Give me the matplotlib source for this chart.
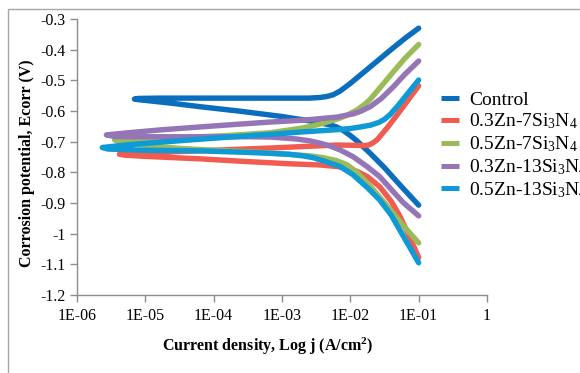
import numpy as np
import matplotlib
matplotlib.use('Agg')
import matplotlib.pyplot as plt
from matplotlib.patches import Rectangle
from matplotlib.ticker import FixedLocator, FixedFormatter, NullLocator

plt.rcParams['font.family'] = 'Liberation Serif'
plt.rcParams['mathtext.fontset'] = 'custom'
plt.rcParams['mathtext.rm'] = 'Liberation Serif'
plt.rcParams['mathtext.bf'] = 'Liberation Serif:bold'
plt.rcParams['mathtext.default'] = 'regular'

# ---------------------------------------------------------
#  Tafel curves: log10 j (A/cm2) and potential E (V)
#  each path = anodic branch (right -> tip) + cathodic branch (tip -> right)
# ---------------------------------------------------------

labels = ['Control', '0.3Zn-7Si$_3$N$_4$', '0.5Zn-7Si$_3$N$_4$',
          '0.3Zn-13Si$_3$N$_4$', '0.5Zn-13Si$_3$N$_4$']
colors = ['#0A6EBE', '#F15B50', '#9BBB59', '#9575B5', '#0E9AD6']

control_logj = [-1.0, -1.2, -1.4, -1.6, -1.8, -2.0, -2.15, -2.25, -2.35, -2.45, -2.6, -3.0, -4.0, -4.8, -5.1, -5.16,
                -5.1, -4.6, -4.2, -3.6, -3.0, -2.6, -2.3, -2.2, -2.1, -2.0, -1.9, -1.7, -1.5, -1.25, -1.0]
control_E = [-0.330, -0.363, -0.399, -0.436, -0.473, -0.510, -0.535, -0.547, -0.553, -0.556, -0.558, -0.558, -0.558, -0.558, -0.559, -0.561,
             -0.563, -0.575, -0.586, -0.601, -0.618, -0.632, -0.645, -0.652, -0.664, -0.680, -0.698, -0.740, -0.785, -0.847, -0.907]

red_logj = [-1.0, -1.15, -1.3, -1.45, -1.6, -1.65, -1.7, -1.75, -1.82, -1.9, -2.2, -2.7, -3.2, -4.0, -4.7, -5.2, -5.38,
            -5.3, -5.0, -4.2, -3.5, -2.9, -2.44, -2.2, -2.05, -1.9, -1.75, -1.57, -1.4, -1.27, -1.13, -1.0]
red_E = [-0.518, -0.563, -0.608, -0.652, -0.692, -0.701, -0.708, -0.712, -0.713, -0.712, -0.711, -0.716, -0.721, -0.728, -0.734, -0.738, -0.741,
         -0.744, -0.748, -0.756, -0.765, -0.772, -0.776, -0.781, -0.787, -0.797, -0.814, -0.847, -0.895, -0.945, -1.012, -1.078]

green_logj = [-1.0, -1.2, -1.37, -1.55, -1.71, -1.8, -1.9, -2.05, -2.2, -2.45, -2.69, -3.17, -3.8, -4.5, -5.1, -5.45,
              -5.35, -5.0, -4.5, -4.0, -3.5, -3.0, -2.6, -2.4, -2.2, -2.05, -1.9, -1.71, -1.45, -1.22, -1.0]
green_E = [-0.383, -0.428, -0.472, -0.520, -0.562, -0.580, -0.596, -0.614, -0.627, -0.643, -0.655, -0.671, -0.680, -0.687, -0.691, -0.694,
           -0.701, -0.712, -0.722, -0.728, -0.733, -0.740, -0.746, -0.752, -0.762, -0.775, -0.800, -0.845, -0.912, -0.975, -1.030]

purple_logj = [-1.0, -1.2, -1.37, -1.55, -1.71, -1.85, -1.95, -2.2, -2.69, -3.17, -3.7, -4.2, -4.8, -5.3, -5.57,
               -5.45, -5.0, -4.5, -4.0, -3.5, -3.17, -2.8, -2.6, -2.44, -2.3, -2.15, -1.96, -1.75, -1.57, -1.4, -1.22, -1.0]
purple_E = [-0.437, -0.480, -0.521, -0.560, -0.586, -0.601, -0.609, -0.620, -0.630, -0.636, -0.644, -0.652, -0.662, -0.672, -0.678,
            -0.683, -0.684, -0.684, -0.684, -0.684, -0.685, -0.691, -0.697, -0.705, -0.714, -0.727, -0.749, -0.782, -0.814, -0.856, -0.900, -0.942]

blue_logj = [-1.0, -1.15, -1.3, -1.42, -1.5, -1.58, -1.7, -1.85, -2.0, -2.2, -2.69, -3.17, -3.7, -4.2, -4.8, -5.3, -5.63,
             -5.55, -5.0, -4.2, -3.5, -3.17, -2.9, -2.7, -2.55, -2.4, -2.15, -1.96, -1.75, -1.57, -1.4, -1.22, -1.0]
blue_E = [-0.499, -0.540, -0.582, -0.612, -0.627, -0.637, -0.646, -0.652, -0.657, -0.661, -0.668, -0.676, -0.684, -0.692, -0.702, -0.711, -0.719,
          -0.724, -0.728, -0.730, -0.735, -0.738, -0.741, -0.746, -0.752, -0.762, -0.781, -0.808, -0.850, -0.890, -0.940, -1.010, -1.095]

series_logj = [control_logj, red_logj, green_logj, purple_logj, blue_logj]
series_E = [control_E, red_E, green_E, purple_E, blue_E]

x_ticks = [1e-6, 1e-5, 1e-4, 1e-3, 1e-2, 1e-1, 1]
x_ticklabels = ['1E-06', '1E-05', '1E-04', '1E-03', '1E-02', '1E-01', '1']
y_ticks = [-1.2, -1.1, -1.0, -0.9, -0.8, -0.7, -0.6, -0.5, -0.4, -0.3]
y_ticklabels = ['-1.2', '-1.1', '-1', '-0.9', '-0.8', '-0.7', '-0.6', '-0.5', '-0.4', '-0.3']

# ----------
#  Figure
# ----------

W, H = 580, 373
fig = plt.figure(figsize=(W / 100, H / 100), dpi=100)
ax = fig.add_axes([77 / W, 1 - 295 / H, (487 - 77) / W, (295 - 19) / H])

for lj, e, c, lab in zip(series_logj, series_E, colors, labels):
    ax.plot(10 ** np.array(lj), e, color=c, lw=3.9, label=lab,
            solid_capstyle='round', solid_joinstyle='round')

ax.set_xscale('log')
ax.set_xlim(1e-6, 1)
ax.set_ylim(-1.2, -0.3)
ax.xaxis.set_major_locator(FixedLocator(x_ticks))
ax.xaxis.set_major_formatter(FixedFormatter(x_ticklabels))
ax.xaxis.set_minor_locator(NullLocator())
ax.set_yticks(y_ticks)
ax.set_yticklabels(y_ticklabels)

for side in ['top', 'right']:
    ax.spines[side].set_visible(False)
for side in ['left', 'bottom']:
    ax.spines[side].set_color('#8C8C8C')
    ax.spines[side].set_linewidth(1.0)
ax.tick_params(axis='both', direction='out', length=5, width=1.0, color='#8C8C8C')
ax.tick_params(axis='x', labelsize=11.5, pad=4)
ax.tick_params(axis='y', labelsize=11.5, pad=3)

fig.text(27 / W, 1 - 163 / H, 'Corrosion potential, Ecorr (V)', rotation=90,
         ha='center', va='center', fontsize=11.5, fontweight='bold')
fig.text(268 / W, 1 - 346 / H, 'Current density, Log j (A/cm$^{\\mathbf{2}}$)',
         ha='center', va='center', fontsize=11.5, fontweight='bold')

leg = fig.legend(loc='upper left', bbox_to_anchor=(441 / W, 1 - 91 / H), frameon=False,
                 fontsize=14, handlelength=0.9, handletextpad=0.55, labelspacing=0.16,
                 borderpad=0, borderaxespad=0)
for line in leg.get_lines():
    line.set_linewidth(3.6)
    line.set_solid_capstyle('butt')

fig.add_artist(Rectangle((8 / W, -0.1), 1.2, (H - 9) / H + 0.1, transform=fig.transFigure,
                         fill=False, edgecolor='#A6A6A6', lw=1.0))

fig.savefig('out.png', dpi=100)
